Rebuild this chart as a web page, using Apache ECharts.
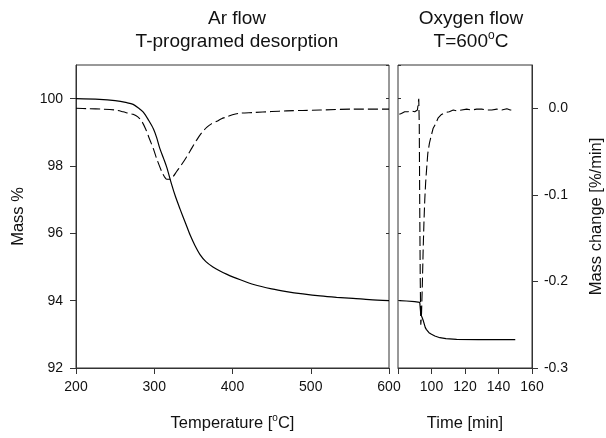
<!DOCTYPE html>
<html>
<head>
<meta charset="utf-8">
<script src="https://cdn.jsdelivr.net/npm/echarts@6/dist/echarts.min.js"></script>
<style>html,body{margin:0;padding:0;background:#fff}#c{width:606px;height:438px}</style>
</head>
<body>
<div id="c"></div>
<script>
// ---- Data ----
// Left panel: Ar flow, T-programmed desorption (x = temperature, °C)
const tpdMassT = [200,230,250,265,273,280,286,293,299,303,307,312,316,322,327,333,340,346,352,358.5,366,375,384,393,401,410,427,450,469,490,512,533,554,575,600];
const tpdMass  = [100.0,99.98,99.94,99.88,99.83,99.72,99.6,99.35,99.1,98.85,98.53,98.22,97.96,97.47,97.1,96.72,96.3,95.94,95.64,95.37,95.16,95.0,94.88,94.78,94.7,94.62,94.48,94.35,94.27,94.2,94.14,94.1,94.07,94.03,94.0];
const tpdRateT = [200,215,235,250,260,268,273,279,284,289,294.6,299,303,309.5,313,316,320,324,328.6,335,341.5,348,354,360,367,373,380,386,392.6,400,409.6,427,450,469,490,512,554,600];
const tpdRate  = [0.0,-0.0005,-0.001,-0.002,-0.004,-0.006,-0.007,-0.010,-0.015,-0.024,-0.037,-0.047,-0.058,-0.073,-0.079,-0.082,-0.082,-0.079,-0.073,-0.065,-0.056,-0.046,-0.037,-0.029,-0.022,-0.018,-0.015,-0.012,-0.010,-0.0075,-0.0056,-0.0049,-0.0038,-0.003,-0.0025,-0.002,-0.001,-0.001];
// Right panel: oxygen flow at 600 °C (x = time, min)
const oxMassT = [80.8,85,90,93,93.3,93.6,94.0,94.4,95,96.3,97,98.5,100,102,105,108.6,115,128,140,150];
const oxMass  = [94.0,93.99,93.97,93.95,93.9,93.6,93.55,93.5,93.42,93.2,93.14,93.05,93.0,92.95,92.9,92.87,92.85,92.84,92.84,92.84];
const oxRateT = [80.8,82,84,86,88,89,90,91,91.6,92.0,92.4,92.7,93.0,93.3,93.6,94.0,94.5,95.0,95.5,96.0,96.5,97.2,97.8,98.8,99.8,101,102.7,104,105.7,108,110.6,113,115,118,121,124,127,130,133,136,139,142,145,147,149.5];
const oxRate  = [-0.007,-0.006,-0.004,-0.004,-0.003,-0.002,-0.004,-0.003,-0.002,0.0,0.011,-0.02,-0.12,-0.2,-0.25,-0.24,-0.206,-0.165,-0.131,-0.105,-0.086,-0.067,-0.052,-0.04,-0.032,-0.023,-0.017,-0.011,-0.0075,-0.005,-0.004,-0.002,-0.003,-0.002,-0.001,-0.002,-0.001,-0.001,-0.002,-0.002,-0.001,-0.002,-0.0005,-0.002,-0.002];
// Axis ranges / ticks
const massRange = [92, 101], massStep = 2;
const rateRange = [-0.3, 0.05], rateStep = 0.1;
const tempRange = [200, 600], tempStep = 100;
const timeRange = [80, 160], timeStep = 20;

const zip = (xs, ys) => xs.map((x, i) => [x, ys[i]]);
const FONT = 'Liberation Sans, Arial, sans-serif';
const INK = '#111', EDGE = '#333';
const TICK = 14, NAME = 16.5, TITLE = 19;
const sup = { fontSize: 10, lineHeight: 12, verticalAlign: 'top', color: INK, fontFamily: FONT };

const chart = echarts.init(document.getElementById('c'), null, { renderer: 'canvas' });
chart.setOption({
  backgroundColor: '#fff',
  animation: false,
  textStyle: { fontFamily: FONT, color: INK },
  title: [
    { text: 'Ar flow\nT-programed desorption', left: 232, top: 2, textAlign: 'center',
      textStyle: { fontSize: TITLE, fontWeight: 'normal', color: INK, fontFamily: FONT, lineHeight: 23 } },
    { text: 'Oxygen flow\nT=600{sup|o}C', left: 466, top: 2, textAlign: 'center',
      textStyle: { fontSize: TITLE, fontWeight: 'normal', color: INK, fontFamily: FONT, lineHeight: 23,
        rich: { sup: { fontSize: 12, lineHeight: 13, verticalAlign: 'top', color: INK, fontFamily: FONT } } } }
  ],
  grid: [
    { left: 76, top: 65, width: 313, height: 312, show: true, borderColor: EDGE, borderWidth: 1, backgroundColor: 'transparent' },
    { left: 398, top: 65, width: 136, height: 312, show: true, borderColor: EDGE, borderWidth: 1, backgroundColor: 'transparent' }
  ],
  xAxis: [
    { type: 'value', gridIndex: 0, min: tempRange[0], max: tempRange[1], interval: tempStep,
      axisLine: { onZero: false, lineStyle: { color: EDGE } }, axisTick: { length: 6, lineStyle: { color: EDGE } },
      splitLine: { show: false },
      axisLabel: { margin: 12, fontSize: TICK, color: INK, fontFamily: FONT },
      name: 'Temperature [{sup|o}C]', nameLocation: 'middle', nameGap: 45,
      nameTextStyle: { fontSize: NAME, color: INK, fontFamily: FONT, lineHeight: 20, rich: { sup: sup } } },
    { type: 'value', gridIndex: 1, min: timeRange[0], max: timeRange[1], interval: timeStep,
      axisLine: { onZero: false, lineStyle: { color: EDGE } }, axisTick: { length: 6, lineStyle: { color: EDGE } },
      splitLine: { show: false },
      axisLabel: { margin: 12, fontSize: TICK, color: INK, fontFamily: FONT,
        formatter: v => (v >= 100 ? String(v) : '') },
      name: 'Time [min]', nameLocation: 'middle', nameGap: 45,
      nameTextStyle: { fontSize: NAME, color: INK, fontFamily: FONT, lineHeight: 20 } }
  ],
  yAxis: [
    // 0: mass %, left panel, visible on left
    { type: 'value', gridIndex: 0, position: 'left', min: massRange[0], max: massRange[1], interval: massStep,
      axisLine: { show: true, onZero: false, lineStyle: { color: EDGE } }, axisTick: { show: true, length: 6, lineStyle: { color: EDGE } },
      splitLine: { show: false }, axisLabel: { margin: 13, fontSize: TICK, color: INK, fontFamily: FONT, showMaxLabel: false },
      name: 'Mass %', nameLocation: 'middle', nameGap: 49, nameRotate: 90,
      nameTextStyle: { fontSize: NAME, color: INK, fontFamily: FONT } },
    // 1: rate, left panel, hidden
    { type: 'value', gridIndex: 0, position: 'right', min: rateRange[0], max: rateRange[1], interval: rateStep, show: false },
    // 2: mass %, left panel, inner ticks on right edge
    { type: 'value', gridIndex: 0, position: 'right', min: massRange[0], max: massRange[1], interval: massStep,
      axisLine: { show: false, onZero: false }, axisTick: { show: true, inside: true, length: 3, lineStyle: { color: EDGE } },
      axisLabel: { show: false }, splitLine: { show: false } },
    // 3: rate, right panel, visible on right
    { type: 'value', gridIndex: 1, position: 'right', min: rateRange[0], max: rateRange[1], interval: rateStep,
      axisLine: { show: true, onZero: false, lineStyle: { color: EDGE } }, axisTick: { show: true, length: 6, lineStyle: { color: EDGE } },
      splitLine: { show: false },
      axisLabel: { margin: 36, align: 'right', fontSize: TICK, color: INK, fontFamily: FONT, showMaxLabel: false,
        formatter: v => { const r = Math.round(v * 10) / 10; return (Math.abs(r) < 1e-9 ? 0 : r).toFixed(1); } },
      name: 'Mass change [%/min]', nameLocation: 'middle', nameGap: 56, nameRotate: 90,
      nameTextStyle: { fontSize: NAME, color: INK, fontFamily: FONT } },
    // 4: mass %, right panel, inner ticks on left edge
    { type: 'value', gridIndex: 1, position: 'left', min: massRange[0], max: massRange[1], interval: massStep,
      axisLine: { show: false, onZero: false }, axisTick: { show: true, inside: true, length: 3, lineStyle: { color: EDGE } },
      axisLabel: { show: false }, splitLine: { show: false } }
  ],
  series: [
    { type: 'line', xAxisIndex: 0, yAxisIndex: 0, data: zip(tpdMassT, tpdMass), showSymbol: false, smooth: 0.3,
      lineStyle: { color: '#000', width: 1.2 } },
    { type: 'line', xAxisIndex: 0, yAxisIndex: 1, data: zip(tpdRateT, tpdRate), showSymbol: false, smooth: 0.3,
      lineStyle: { color: '#000', width: 1.1, type: [10, 4] } },
    { type: 'line', xAxisIndex: 1, yAxisIndex: 4, data: zip(oxMassT, oxMass), showSymbol: false, smooth: false,
      lineStyle: { color: '#000', width: 1.2 } },
    { type: 'line', xAxisIndex: 1, yAxisIndex: 3, data: zip(oxRateT, oxRate), showSymbol: false, smooth: false,
      lineStyle: { color: '#000', width: 1.1, type: [10, 4] } }
  ]
});
</script>
</body>
</html>
